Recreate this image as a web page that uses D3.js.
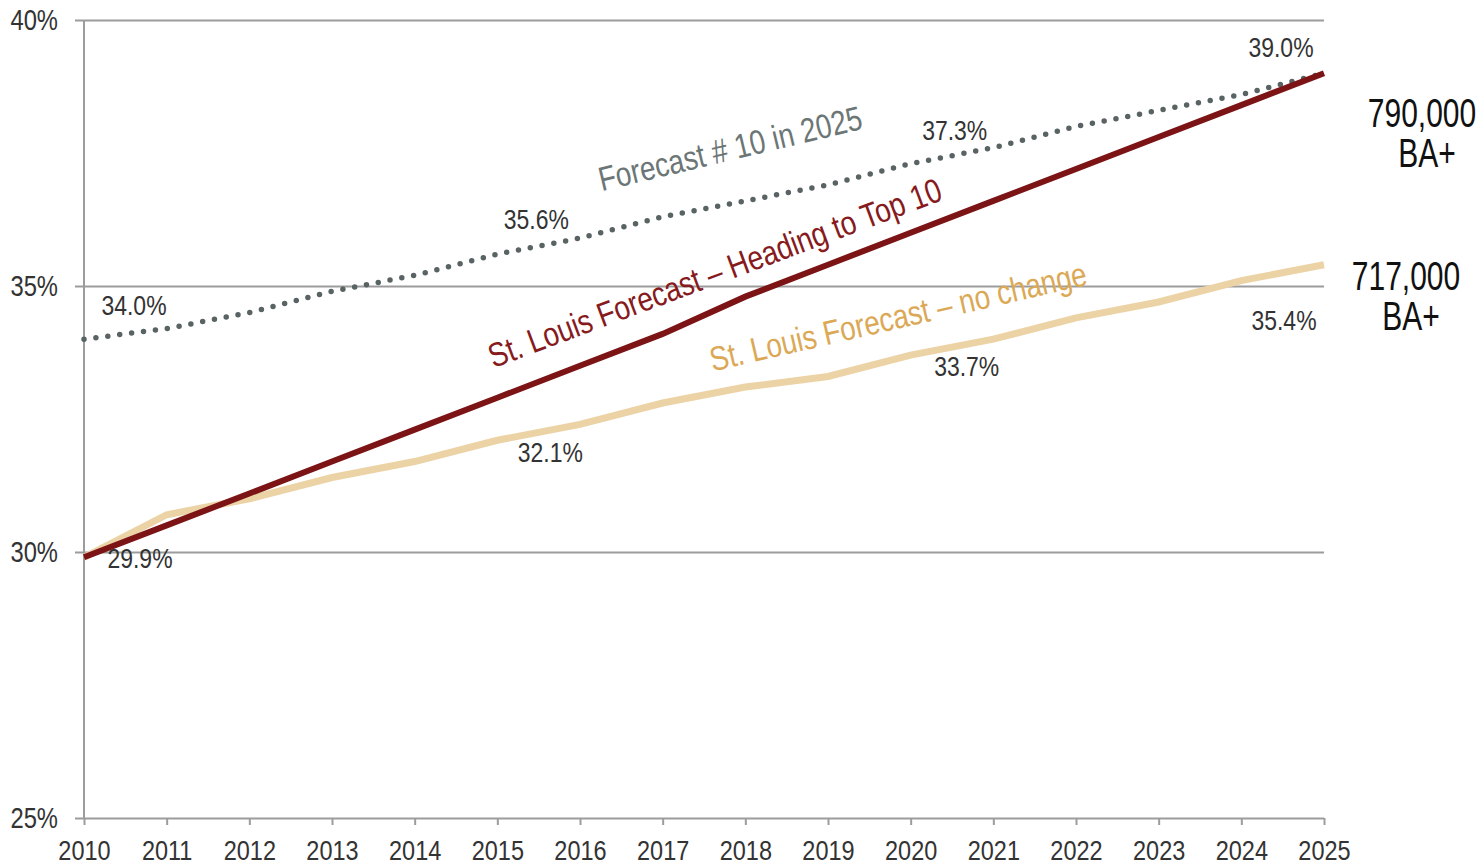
<!DOCTYPE html>
<html>
<head>
<meta charset="utf-8">
<script src="https://cdn.jsdelivr.net/npm/d3@7"></script>
<style>
  body { margin: 0; background: #fff; }
  svg text { font-family: "Liberation Sans", Arial, sans-serif; }
</style>
</head>
<body>
<div id="chart"></div>
<script>
let width = 1482;
let height = 866;
let margin = ({top: 20, right: 158, bottom: 48, left: 84});
let squeeze = 0.82; // condensed look, the original uses a narrow face

// data (percent of adults with BA+)
let years = d3.range(2010, 2026);
let top10Forecast = [34.0, 34.2, 34.5, 34.9, 35.2, 35.6, 35.9, 36.3, 36.6, 36.9, 37.3, 37.6, 38.0, 38.3, 38.6, 39.0];
let headingTop10 = [29.9, 30.5, 31.1, 31.7, 32.3, 32.9, 33.5, 34.1, 34.8, 35.4, 36.0, 36.6, 37.2, 37.8, 38.4, 39.0];
let noChange = [29.9, 30.7, 31.0, 31.4, 31.7, 32.1, 32.4, 32.8, 33.1, 33.3, 33.7, 34.0, 34.4, 34.7, 35.1, 35.4];
let yTicks = [25, 30, 35, 40];
let seriesNames = ["Forecast # 10 in 2025", "St. Louis Forecast \u2013 Heading to Top 10", "St. Louis Forecast \u2013 no change"];
let endTotals = ["790,000", "717,000"];

let x = d3.scaleLinear()
    .domain([2010, 2025])
    .range([margin.left, width - margin.right]);
let y = d3.scaleLinear()
    .domain([25, 40])
    .range([height - margin.bottom, margin.top]);

let svg = d3.select("#chart")
    .append("svg")
    .attr("width", width)
    .attr("height", height);

// horizontal grid + y labels
svg.append("g")
    .attr("transform", `translate(${margin.left - 9},0)`)
    .call(d3.axisLeft(y).tickValues(yTicks).tickFormat(d => d + "%")
        .tickSize(-(width - margin.right - margin.left + 9)).tickPadding(17))
    .call(g => g.select(".domain").remove())
    .call(g => g.selectAll("line").attr("stroke", "#9c9c9c").attr("stroke-width", 2))
    .call(g => g.selectAll("text")
        .attr("font-size", 29).attr("fill", "#333")
        .attr("x", 0)
        .attr("transform", `translate(-17,0) scale(${squeeze},1)`));

// left axis line
svg.append("line")
    .attr("x1", x(2010)).attr("x2", x(2010))
    .attr("y1", y(40)).attr("y2", y(25))
    .attr("stroke", "#9c9c9c").attr("stroke-width", 2);

// x axis
svg.append("g")
    .attr("transform", `translate(0,${y(25)})`)
    .call(d3.axisBottom(x).tickValues(years).tickFormat(d3.format("d"))
        .tickSize(7).tickSizeOuter(0).tickPadding(15))
    .call(g => g.select(".domain").remove())
    .call(g => g.selectAll("line").attr("stroke", "#9c9c9c").attr("stroke-width", 2))
    .call(g => g.selectAll("text")
        .attr("font-size", 28).attr("fill", "#333")
        .attr("transform", `scale(0.84,1)`));

let line = d3.line()
    .x((d, i) => x(years[i]))
    .y(d => y(d));

svg.append("path")
    .datum(top10Forecast)
    .attr("fill", "none")
    .attr("stroke", "#596363")
    .attr("stroke-width", 5.5)
    .attr("stroke-linecap", "round")
    .attr("stroke-dasharray", "0 12")
    .attr("d", line);

svg.append("path")
    .datum(noChange)
    .attr("fill", "none")
    .attr("stroke", "#ecd3a6")
    .attr("stroke-width", 7)
    .attr("d", line);

svg.append("path")
    .datum(headingTop10)
    .attr("fill", "none")
    .attr("stroke", "#7c1416")
    .attr("stroke-width", 6)
    .attr("d", line);

// series names along the lines
let seriesLabels = [
    {text: seriesNames[0], year: 2017.85, value: 37.37, angle: -13.4, color: "#6c7676"},
    {text: seriesNames[1], year: 2017.68, value: 35.04, angle: -20.5, color: "#861a1c"},
    {text: seriesNames[2], year: 2019.88, value: 34.21, angle: -13, color: "#dba956"}
];
svg.append("g")
    .attr("font-size", 34)
    .attr("text-anchor", "middle")
    .selectAll("text")
    .data(seriesLabels)
    .join("text")
    .attr("transform", d => `translate(${x(d.year)},${y(d.value)}) rotate(${d.angle}) scale(${squeeze},1)`)
    .attr("fill", d => d.color)
    .text(d => d.text);

// value callouts
let callouts = [
    {s: top10Forecast, i: 0, dx: 50, dy: -34},
    {s: top10Forecast, i: 5, dx: 39, dy: -35},
    {s: top10Forecast, i: 10, dx: 44, dy: -33},
    {s: top10Forecast, i: 15, dx: -43, dy: -26},
    {s: noChange, i: 0, dx: 56, dy: 1},
    {s: noChange, i: 5, dx: 53, dy: 12},
    {s: noChange, i: 10, dx: 56, dy: 11},
    {s: noChange, i: 15, dx: -40, dy: 55}
];
svg.append("g")
    .attr("font-size", 28)
    .attr("fill", "#333")
    .attr("text-anchor", "middle")
    .selectAll("text")
    .data(callouts)
    .join("text")
    .attr("transform", d => `translate(${x(years[d.i]) + d.dx},${y(d.s[d.i]) + d.dy}) scale(${squeeze},1)`)
    .attr("dy", "0.35em")
    .text(d => d.s[d.i].toFixed(1) + "%");

// totals at the right
let totals = [
    {label: endTotals[0], value: headingTop10[15], dx: 98, dy: 40},
    {label: endTotals[1], value: noChange[15], dx: 82, dy: 11}
];
let tg = svg.append("g")
    .attr("font-size", 40)
    .attr("fill", "#111")
    .attr("text-anchor", "middle")
    .selectAll("g")
    .data(totals)
    .join("g")
    .attr("transform", d => `translate(${x(2025) + d.dx},${y(d.value) + d.dy})`);
tg.append("text")
    .attr("transform", "scale(0.75,1)")
    .attr("dy", "0.35em")
    .text(d => d.label);
tg.append("text")
    .attr("transform", "translate(5,40) scale(0.75,1)")
    .attr("dy", "0.35em")
    .text("BA+");
</script>
</body>
</html>
